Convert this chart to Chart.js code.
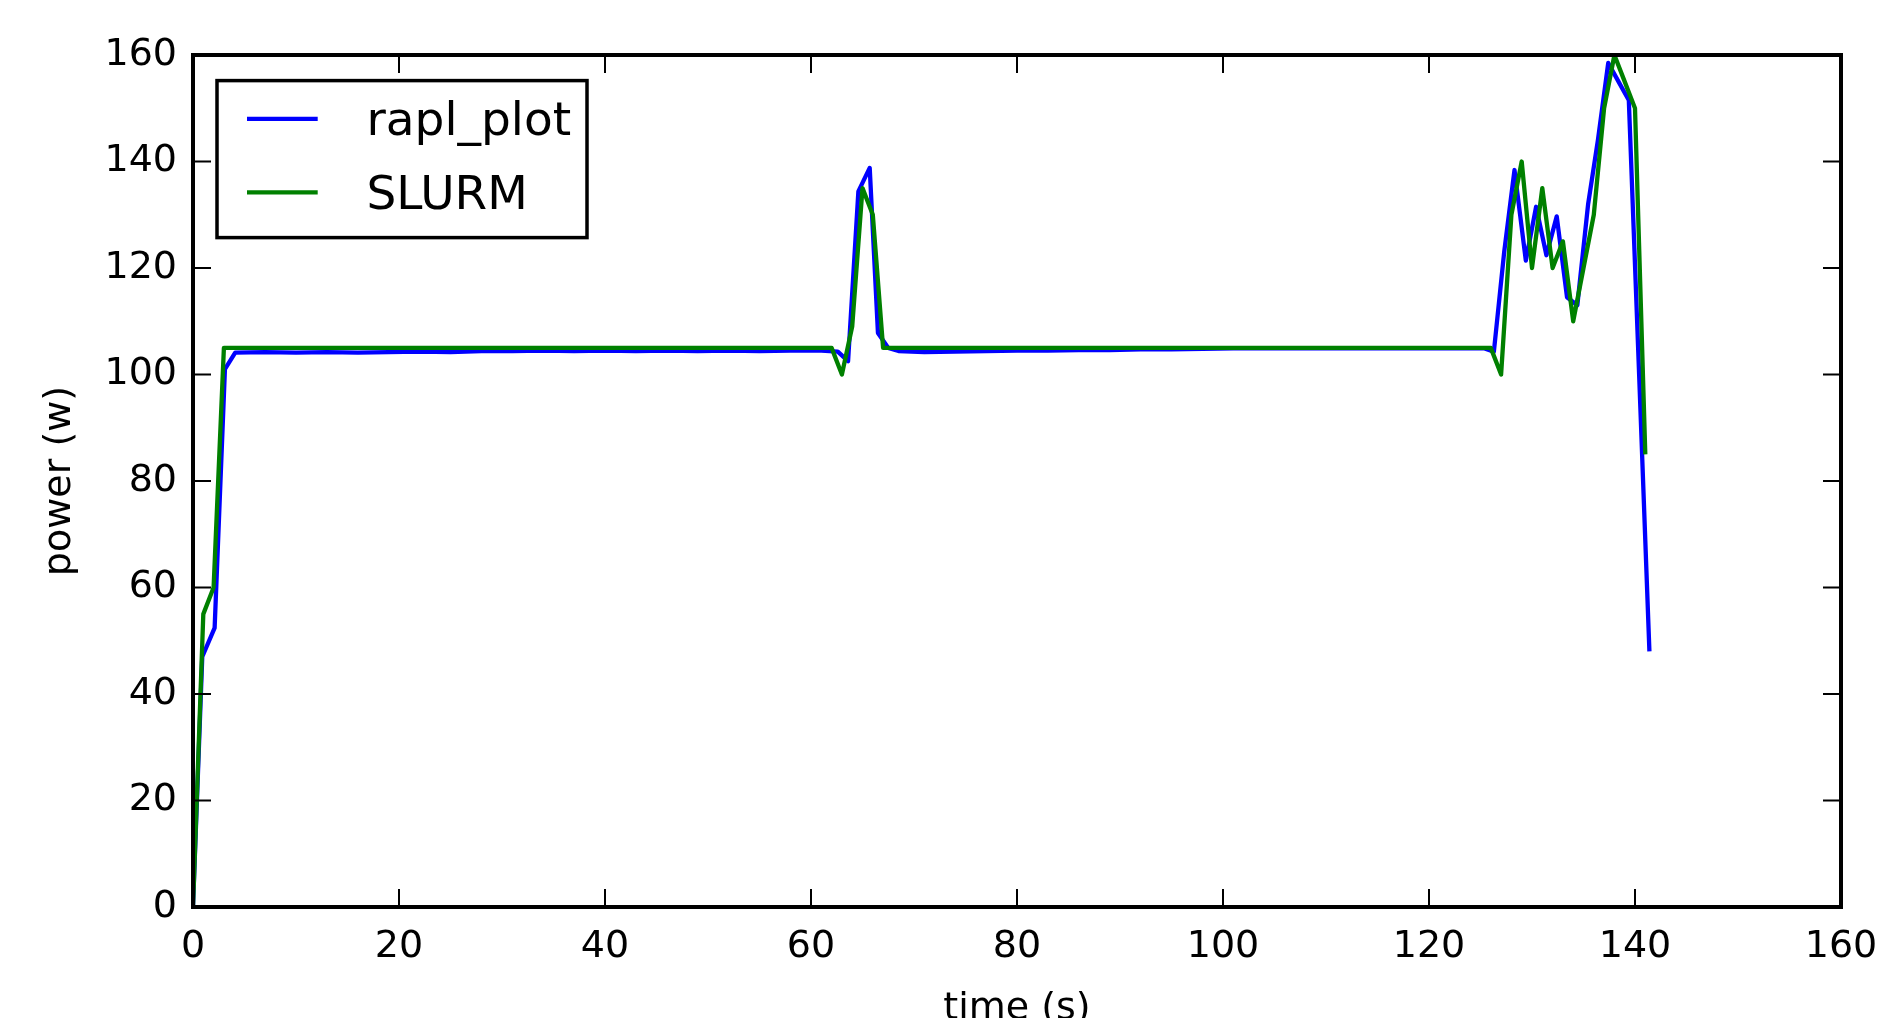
<!DOCTYPE html>
<html>
<head>
<meta charset="utf-8">
<title>power</title>
<script src="https://cdn.jsdelivr.net/npm/chart.js@4.4.1/dist/chart.umd.min.js"></script>
<style>
  html, body { margin: 0; padding: 0; background: #fff; }
  #wrap { width: 1887px; height: 1018px; }
</style>
</head>
<body>
<div id="wrap"><canvas id="powerChart" width="1887" height="1018"></canvas></div>
<script>
// rapl_plot samples (time s, power W)
const raplTimes = [0, 0.9, 2.1, 3.1, 4.1, 7, 10, 13, 16, 19, 22, 25, 28, 31, 34, 37, 40, 43, 46, 49,
  52, 55, 58, 61, 62.6, 63.6, 64.6, 65.7, 66.5, 67.5, 68.5, 71, 74, 77, 80, 83, 86, 89, 92, 95,
  98, 101, 106, 111, 116, 121, 125.4, 126.3, 127.3, 128.3, 129.4, 130.4, 131.4, 132.4, 133.4,
  134.4, 135.45, 136.4, 137.4, 138.4, 139.4, 140.4, 141.4];
const raplPower = [0, 47, 52.4, 101, 104.1, 104.2, 104.1, 104.2, 104.1, 104.2, 104.3, 104.2, 104.4, 104.4, 104.5, 104.4, 104.5, 104.4, 104.5, 104.4,
  104.5, 104.4, 104.5, 104.5, 104.3, 102.5, 134.4, 138.8, 107.8, 105, 104.4, 104.2, 104.3, 104.4, 104.5, 104.5, 104.6, 104.6, 104.7, 104.7,
  104.8, 104.9, 104.9, 104.9, 104.9, 104.9, 104.9, 104.3, 123, 138.4, 121.4, 131.5, 122.4, 129.7, 114.5,
  113, 132, 144, 158.5, 155, 151.5, 100, 48];

// SLURM samples
const slurmTimes = [0, 1, 2, 3, 62, 63, 64, 65, 66, 67, 126, 127, 128, 129, 130, 131, 132, 133,
  134, 135, 136, 137, 138, 139, 140, 141];
const slurmPower = [0, 55, 60, 105, 105, 100, 109, 135, 130, 105, 105, 100, 130, 140, 120, 135, 120, 125,
  110, 120, 130, 150, 160, 155, 150, 85];

const xTicks = [0, 20, 40, 60, 80, 100, 120, 140, 160];
const yTicks = [0, 20, 40, 60, 80, 100, 120, 140, 160];

const FONT = '"DejaVu Sans", "Liberation Sans", sans-serif';
const TICK_LEN = 18;
const LINE_W = 4.3;

const toPoints = (ts, vs) => ts.map((t, i) => ({ x: t, y: vs[i] }));

// frame, inward ticks on all sides and the boxed legend (matplotlib classic look)
const frameAndLegend = {
  id: 'frameAndLegend',
  afterDatasetsDraw(chart) {
    const { ctx, chartArea: a, scales: { x, y } } = chart;
    ctx.save();
    ctx.strokeStyle = '#000';
    ctx.lineWidth = 2;
    ctx.beginPath();
    x.ticks.forEach(t => {
      const px = x.getPixelForValue(t.value);
      ctx.moveTo(px, a.bottom); ctx.lineTo(px, a.bottom - TICK_LEN);
      ctx.moveTo(px, a.top); ctx.lineTo(px, a.top + TICK_LEN);
    });
    y.ticks.forEach(t => {
      const py = y.getPixelForValue(t.value);
      ctx.moveTo(a.left, py); ctx.lineTo(a.left + TICK_LEN, py);
      ctx.moveTo(a.right, py); ctx.lineTo(a.right - TICK_LEN, py);
    });
    ctx.stroke();
    ctx.lineWidth = 4;
    ctx.strokeRect(a.left, a.top, a.right - a.left, a.bottom - a.top);

    // legend box
    const bx = a.left + 24, by = a.top + 25.6, bw = 370, bh = 157;
    ctx.fillStyle = '#fff';
    ctx.fillRect(bx, by, bw, bh);
    ctx.lineWidth = 3.5;
    ctx.strokeRect(bx, by, bw, bh);
    const rows = [38.3, 111.7];
    chart.data.datasets.forEach((ds, i) => {
      const ly = by + rows[i];
      ctx.strokeStyle = ds.borderColor;
      ctx.lineWidth = LINE_W;
      ctx.beginPath();
      ctx.moveTo(bx + 30, ly);
      ctx.lineTo(bx + 100.7, ly);
      ctx.stroke();
      ctx.fillStyle = '#000';
      ctx.font = '47px ' + FONT;
      ctx.textBaseline = 'alphabetic';
      ctx.textAlign = 'left';
      ctx.fillText(ds.label, bx + 149.5, ly + 16.5);
    });
    ctx.restore();
  }
};

new Chart(document.getElementById('powerChart'), {
  type: 'line',
  data: {
    datasets: [
      {
        label: 'rapl_plot',
        data: toPoints(raplTimes, raplPower),
        borderColor: '#0000ff',
        borderWidth: LINE_W,
        pointRadius: 0,
        tension: 0,
        fill: false,
        borderJoinStyle: 'round',
        order: 1
      },
      {
        label: 'SLURM',
        data: toPoints(slurmTimes, slurmPower),
        borderColor: '#008000',
        borderWidth: LINE_W,
        pointRadius: 0,
        tension: 0,
        fill: false,
        borderJoinStyle: 'round',
        order: 0
      }
    ]
  },
  options: {
    responsive: false,
    animation: false,
    events: [],
    layout: { padding: { left: 0, right: 46, top: 55, bottom: 0 } },
    plugins: {
      legend: { display: false },
      tooltip: { enabled: false }
    },
    scales: {
      x: {
        type: 'linear',
        min: 0,
        max: 160,
        afterBuildTicks: s => { s.ticks = xTicks.map(v => ({ value: v })); },
        afterFit: s => { s.height = 111; s.paddingLeft = 0; s.paddingRight = 0; },
        grid: { display: false, drawTicks: false },
        border: { display: false },
        ticks: { color: '#000', padding: 17, maxRotation: 0, font: { family: FONT, size: 38 } },
        title: {
          display: true,
          text: 'time (s)',
          color: '#000',
          font: { family: FONT, size: 38 },
          padding: { top: 0, bottom: -14 }
        }
      },
      y: {
        min: 0,
        max: 160,
        afterBuildTicks: s => { s.ticks = yTicks.map(v => ({ value: v })); },
        afterFit: s => { s.width = 193; s.paddingTop = 0; s.paddingBottom = 0; },
        grid: { display: false, drawTicks: false },
        border: { display: false },
        ticks: { color: '#000', padding: 16, font: { family: FONT, size: 38 } },
        title: {
          display: true,
          text: 'power (w)',
          color: '#000',
          font: { family: FONT, size: 38 },
          padding: { top: 37, bottom: 0 }
        }
      }
    }
  },
  plugins: [frameAndLegend]
});
</script>
</body>
</html>
